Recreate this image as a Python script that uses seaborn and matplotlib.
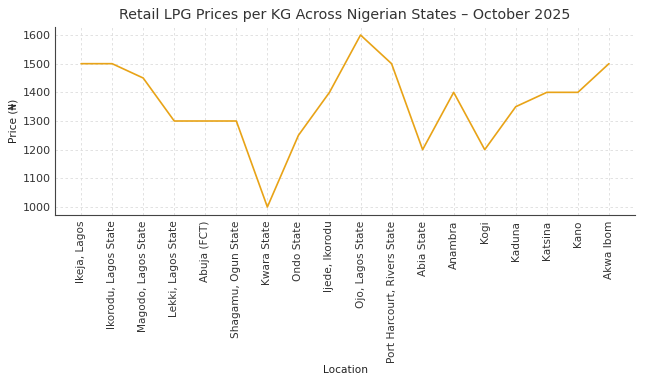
import matplotlib
matplotlib.use("Agg")
import matplotlib.pyplot as plt
import seaborn as sns
import pandas as pd

locations = ["Ikeja, Lagos", "Ikorodu, Lagos State", "Magodo, Lagos State", "Lekki, Lagos State",
             "Abuja (FCT)", "Shagamu, Ogun State", "Kwara State", "Ondo State", "Ijede, Ikorodu",
             "Ojo, Lagos State", "Port Harcourt, Rivers State", "Abia State", "Anambra", "Kogi",
             "Kaduna", "Katsina", "Kano", "Akwa Ibom"]
prices = [1500, 1500, 1450, 1300, 1300, 1300, 1000, 1250, 1400, 1600, 1500, 1200, 1400, 1200,
          1350, 1400, 1400, 1500]

df = pd.DataFrame({"Location": locations, "Price": prices})

sns.set_style("white")
plt.rcParams['font.family'] = ['DejaVu Sans']
fig = plt.figure(figsize=(6.45, 3.87), dpi=100)
ax = fig.add_axes([55/645, 1 - 215/387, 580/645, 188/387])

sns.lineplot(data=df, x="Location", y="Price", ax=ax, color="#E8A317", linewidth=1.2, sort=False)

ax.set_xlim(-0.84, 17.84)
ax.set_ylim(972, 1628)
ax.set_yticks([1000, 1100, 1200, 1300, 1400, 1500, 1600])
ax.set_xticks(range(len(locations)))
ax.set_xticklabels(locations, rotation=90, fontsize=7.6, color="#333333")
ax.tick_params(axis="y", labelsize=8, labelcolor="#333333", direction="in", length=3, color="#555555", pad=3)
ax.tick_params(axis="x", direction="in", length=3, color="#555555", pad=4)
ax.grid(True, linestyle=(0, (3, 3)), color="#dddddd", linewidth=0.6)
for s in ["top", "right"]:
    ax.spines[s].set_visible(False)
for s in ["left", "bottom"]:
    ax.spines[s].set_color("#444444")
    ax.spines[s].set_linewidth(0.8)

ax.set_title("Retail LPG Prices per KG Across Nigerian States – October 2025", fontsize=10.3, color="#333333", pad=6)
ax.set_xlabel("Location", fontsize=7.6, color="#222222", labelpad=2)
ax.set_ylabel("Price (₦)", fontsize=7.6, color="#222222", labelpad=3)

fig.savefig("out.png", dpi=100)
